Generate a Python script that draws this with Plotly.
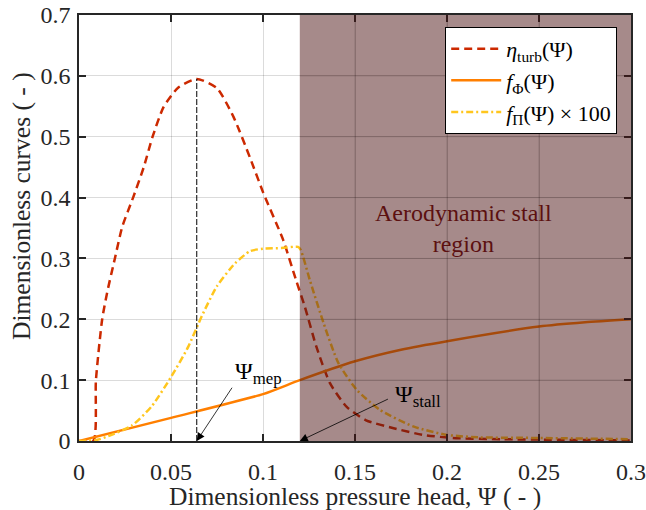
import plotly.graph_objects as go

# ---------------- data ----------------
psi_eta = [0.0, 0.0078, 0.0092, 0.0126, 0.0153, 0.0195, 0.0235, 0.0294, 0.0352, 0.040,
           0.046, 0.054, 0.064, 0.0749, 0.0839, 0.093, 0.100, 0.111, 0.118, 0.1228,
           0.129, 0.1364, 0.1455, 0.156, 0.171, 0.187, 0.203, 0.23, 0.26, 0.30]
eta_turb = [0.0, 0.0, 0.10, 0.20, 0.244, 0.30, 0.352, 0.40, 0.45, 0.50,
            0.549, 0.581, 0.595, 0.58, 0.533, 0.465, 0.409, 0.33, 0.264, 0.22,
            0.155, 0.095, 0.056, 0.034, 0.021, 0.010, 0.005, 0.003, 0.002, 0.001]

psi_phi = [0.0, 0.05, 0.10, 0.12, 0.15, 0.175, 0.20, 0.25, 0.275, 0.30]
f_phi = [0.0, 0.038, 0.077, 0.100, 0.131, 0.150, 0.164, 0.188, 0.195, 0.200]

psi_pi = [0.0, 0.010, 0.0159, 0.0286, 0.0395, 0.050, 0.0594, 0.0667, 0.0749, 0.0848,
          0.093, 0.100, 0.110, 0.119, 0.1205, 0.1255, 0.133, 0.141, 0.151, 0.1636,
          0.182, 0.200, 0.218, 0.25, 0.30]
f_pi_x100 = [0.0, 0.002, 0.008, 0.025, 0.057, 0.105, 0.155, 0.205, 0.254, 0.292,
             0.312, 0.316, 0.317, 0.319, 0.314, 0.264, 0.193, 0.128, 0.084, 0.051,
             0.0235, 0.010, 0.006, 0.005, 0.003]

psi_stall = 0.12
x_ticks = [0, 0.05, 0.1, 0.15, 0.2, 0.25, 0.3]
x_tick_labels = ["0", "0.05", "0.1", "0.15", "0.2", "0.25", "0.3"]
y_ticks = [0, 0.1, 0.2, 0.3, 0.4, 0.5, 0.6, 0.7]
y_tick_labels = ["0", "0.1", "0.2", "0.3", "0.4", "0.5", "0.6", "0.7"]
x_range = [0, 0.3]
y_range = [0, 0.7]

# peak (maximum efficiency point)
i_mep = max(range(len(eta_turb)), key=lambda i: eta_turb[i])
psi_mep = psi_eta[i_mep]
eta_mep = eta_turb[i_mep]

FONT = "'Liberation Serif', 'Times New Roman', 'DejaVu Serif', serif"
FS = 24
GRID = "rgba(0,0,0,0.14)"

fig = go.Figure()

fig.add_trace(go.Scatter(
    x=psi_eta, y=eta_turb, mode="lines",
    line=dict(color="#CC2900", width=2.5, dash="8px,5px", shape="spline", smoothing=0.6),
    name="<i>η</i><sub>turb</sub>(Ψ)"))
fig.add_trace(go.Scatter(
    x=psi_phi, y=f_phi, mode="lines",
    line=dict(color="#FF7F00", width=2.5, shape="spline", smoothing=0.6),
    name="<i>f</i><sub>Φ</sub>(Ψ)"))
fig.add_trace(go.Scatter(
    x=psi_pi, y=f_pi_x100, mode="lines",
    line=dict(color="#FFC61E", width=2.5, dash="7px,3px,2px,3px", shape="spline", smoothing=0.6),
    name="<i>f</i><sub>Π</sub>(Ψ) × 100"))
fig.add_trace(go.Scatter(
    x=[psi_mep, psi_mep], y=[0, eta_mep], mode="lines",
    line=dict(color="black", width=1, dash="6px,2px"),
    showlegend=False, hoverinfo="skip"))

# stall region shading (on top of curves, like the reference)
shapes = [dict(type="rect", xref="x", yref="y", x0=psi_stall, x1=x_range[1],
               y0=y_range[0], y1=y_range[1], fillcolor="rgb(77,21,21)", opacity=0.5,
               line=dict(width=0), layer="above")]
# grid lines drawn over the shading
for xv in x_ticks:
    if psi_stall < xv < x_range[1]:
        shapes.append(dict(type="line", xref="x", yref="y", x0=xv, x1=xv,
                           y0=y_range[0], y1=y_range[1],
                           line=dict(color="rgba(0,0,0,0.15)", width=1), layer="above"))
for yv in y_ticks:
    if y_range[0] < yv < y_range[1]:
        shapes.append(dict(type="line", xref="x", yref="y", x0=psi_stall, x1=x_range[1],
                           y0=yv, y1=yv,
                           line=dict(color="rgba(0,0,0,0.15)", width=1), layer="above"))

annotations = [
    dict(x=0.2092, y=0.349, xref="x", yref="y", text="Aerodynamic stall<br>region",
         showarrow=False, font=dict(family=FONT, size=FS, color="#5C1010"),
         xanchor="center", yanchor="middle"),
    # arrows
    dict(x=psi_mep, y=0, xref="x", yref="y", axref="x", ayref="y", ax=0.0837, ay=0.090,
         text="", showarrow=True, arrowhead=2, arrowsize=2, arrowwidth=0.8, arrowcolor="black"),
    dict(x=psi_stall, y=0, xref="x", yref="y", axref="x", ayref="y", ax=0.1687, ay=0.070,
         text="", showarrow=True, arrowhead=2, arrowsize=2, arrowwidth=0.8, arrowcolor="black"),
    dict(x=0.0973, y=0.111, xref="x", yref="y", text="Ψ<sub>mep</sub>", showarrow=False,
         font=dict(family=FONT, size=FS, color="black"), xanchor="center", yanchor="middle"),
    dict(x=0.184, y=0.074, xref="x", yref="y", text="Ψ<sub>stall</sub>", showarrow=False,
         font=dict(family=FONT, size=FS, color="black"), xanchor="center", yanchor="middle"),
    # axis titles
    dict(x=0.5, y=-0.131, xref="paper", yref="paper", text="Dimensionless pressure head, Ψ ( - )",
         showarrow=False, font=dict(family=FONT, size=25.5, color="#262626"),
         xanchor="center", yanchor="middle"),
    dict(x=-0.103, y=0.552, xref="paper", yref="paper", text="Dimensionless curves ( - )",
         showarrow=False, textangle=-90, font=dict(family=FONT, size=25.5, color="#262626"),
         xanchor="center", yanchor="middle"),
]

axis_common = dict(
    showline=True, linecolor="#262626", linewidth=1.5, mirror="ticks",
    ticks="inside", ticklen=7, tickwidth=1.5, tickcolor="#262626",
    showgrid=True, gridcolor=GRID, gridwidth=1, zeroline=False, automargin=False,
    tickfont=dict(family=FONT, size=FS, color="#262626"),
)

fig.update_layout(
    width=646, height=510,
    margin=dict(l=79, r=15, t=15, b=69, autoexpand=False),
    paper_bgcolor="white", plot_bgcolor="white",
    xaxis=dict(range=x_range, tickvals=x_ticks, ticktext=x_tick_labels,
               ticklabelstandoff=8, **axis_common),
    yaxis=dict(range=y_range, tickvals=y_ticks, ticktext=y_tick_labels,
               ticklabelstandoff=2, **axis_common),
    shapes=shapes,
    annotations=annotations,
    showlegend=True,
    legend=dict(x=0.975, y=0.972, xanchor="right", yanchor="top",
                bgcolor="white", bordercolor="black", borderwidth=1,
                font=dict(family=FONT, size=22, color="black"),
                tracegroupgap=0, itemwidth=50),
    font=dict(family=FONT),
)

fig.write_html("out.html", config={"displayModeBar": False},
               post_script="document.body.style.margin='0';document.body.style.overflow='hidden';")
